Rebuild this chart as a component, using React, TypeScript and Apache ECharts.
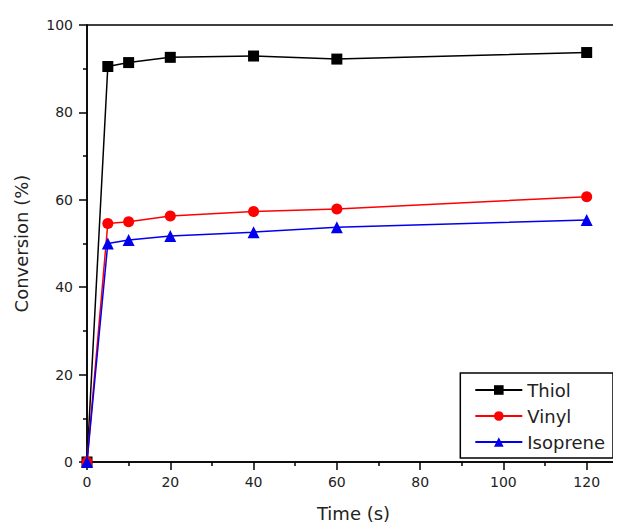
import React, { useEffect, useRef } from "react";
import * as echarts from "echarts";

// Sampling times (s)
const timeS = [0, 5, 10, 20, 40, 60, 120];
// Conversion (%) for each functional group
const thiol = [0, 90.5, 91.4, 92.6, 92.9, 92.2, 93.7];
const vinyl = [0, 54.6, 55.0, 56.3, 57.3, 57.9, 60.7];
const isoprene = [0, 50.0, 50.8, 51.7, 52.6, 53.7, 55.4];

const xMajorTicks = [0, 20, 40, 60, 80, 100, 120];
const xMinorTicks = [10, 30, 50, 70, 90, 110];

const FONT = "DejaVu Sans";

const pair = (ys: number[]) => timeS.map((t, i) => [t, ys[i]]);

export default function App() {
  const ref = useRef<HTMLDivElement>(null);

  useEffect(() => {
    if (!ref.current) return;
    const chart = echarts.init(ref.current, undefined, { renderer: "svg" });

    const baseX = {
      type: "value" as const,
      min: 0,
      max: 128,
      gridIndex: 0,
      splitLine: { show: false },
    };

    chart.setOption({
      animation: false,
      backgroundColor: "#fff",
      grid: {
        left: 87,
        right: 1,
        top: 25,
        bottom: 69,
        show: true,
        borderColor: "#000",
        borderWidth: 1.5,
      },
      legend: {
        orient: "vertical",
        right: 8,
        top: 373,
        padding: [8, 8, 7, 14],
        borderColor: "#000",
        borderWidth: 1.5,
        itemWidth: 47,
        itemHeight: 12,
        itemGap: 8,
        textStyle: { fontFamily: FONT, fontSize: 18, color: "#222" },
        data: ["Thiol", "Vinyl", "Isoprene"],
      },
      xAxis: [
        {
          ...baseX,
          name: "Time (s)",
          nameLocation: "middle",
          nameGap: 42,
          nameTextStyle: { fontFamily: FONT, fontSize: 18, color: "#222" },
          axisLine: { show: true, lineStyle: { color: "#000", width: 1.5 } },
          axisTick: {
            show: true,
            inside: false,
            length: 8,
            lineStyle: { color: "#000", width: 1.5 },
            customValues: xMajorTicks,
          },
          axisLabel: {
            margin: 13,
            fontFamily: FONT,
            fontSize: 14,
            color: "#222",
            customValues: xMajorTicks,
          },
        },
        {
          ...baseX,
          position: "bottom",
          axisLine: { show: false },
          axisTick: {
            show: true,
            inside: false,
            length: 4,
            lineStyle: { color: "#000", width: 1.5 },
            customValues: xMinorTicks,
          },
          axisLabel: { show: false },
        },
      ],
      yAxis: {
        type: "value",
        min: 0,
        max: 100,
        interval: 20,
        name: "Conversion (%)",
        nameLocation: "middle",
        nameGap: 57,
        nameRotate: 90,
        nameTextStyle: { fontFamily: FONT, fontSize: 18, color: "#222" },
        splitLine: { show: false },
        axisLine: { show: true, lineStyle: { color: "#000", width: 1.5 } },
        axisTick: {
          show: true,
          inside: false,
          length: 8,
          lineStyle: { color: "#000", width: 1.5 },
        },
        minorTick: {
          show: true,
          splitNumber: 2,
          length: 4,
          lineStyle: { color: "#000", width: 1.5 },
        },
        axisLabel: {
          margin: 14,
          fontFamily: FONT,
          fontSize: 14,
          color: "#222",
        },
      },
      series: [
        {
          name: "Thiol",
          type: "line",
          xAxisIndex: 0,
          data: pair(thiol),
          symbol: "rect",
          symbolSize: 11,
          color: "#000000",
          lineStyle: { width: 1.5, color: "#000000" },
          itemStyle: { color: "#000000" },
        },
        {
          name: "Vinyl",
          type: "line",
          xAxisIndex: 0,
          data: pair(vinyl),
          symbol: "circle",
          symbolSize: 11,
          color: "#ff0000",
          lineStyle: { width: 1.5, color: "#ff0000" },
          itemStyle: { color: "#ff0000" },
        },
        {
          name: "Isoprene",
          type: "line",
          xAxisIndex: 0,
          data: pair(isoprene),
          symbol: "triangle",
          symbolSize: 12,
          color: "#0000ee",
          lineStyle: { width: 1.5, color: "#0000ee" },
          itemStyle: { color: "#0000ee" },
        },
      ],
    });

    return () => chart.dispose();
  }, []);

  return <div ref={ref} style={{ width: 621, height: 531, margin: -8 }} />;
}
